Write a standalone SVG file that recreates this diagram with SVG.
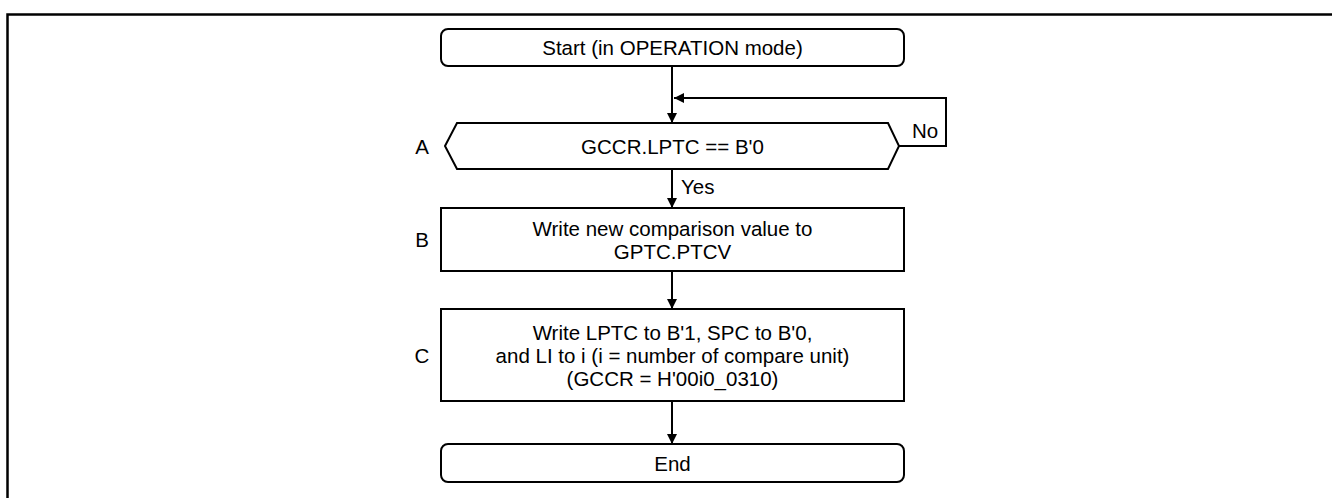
<svg xmlns="http://www.w3.org/2000/svg" width="1332" height="498" viewBox="0 0 1332 498">
<defs>
<style>
.box{fill:#fff;stroke:#000;stroke-width:2}
.ln{fill:none;stroke:#000;stroke-width:2}
.t{font-family:"Liberation Sans",Arial,sans-serif;font-size:20.5px;fill:#000;text-anchor:middle;dominant-baseline:central}
.lbl{font-family:"Liberation Sans",Arial,sans-serif;font-size:20.5px;fill:#000;dominant-baseline:central}
</style>
<marker id="ah" viewBox="0 0 10 10" refX="10" refY="5" markerWidth="10" markerHeight="10" markerUnits="userSpaceOnUse" orient="auto">
<path d="M0,0 L10,5 L0,10 z" fill="#000"/>
</marker>
</defs>
<rect width="1332" height="498" fill="#fff"/>
<path d="M7.5,498 V14.5 H1332" fill="none" stroke="#000" stroke-width="2.5"/>
<g id="connectors">
<line class="ln" x1="672" y1="66" x2="672" y2="123" marker-end="url(#ah)"/>
<polyline class="ln" points="899,146 946,146 946,98 674,98" marker-end="url(#ah)"/>
<line class="ln" x1="672" y1="169" x2="672" y2="208" marker-end="url(#ah)"/>
<line class="ln" x1="672" y1="271" x2="672" y2="309" marker-end="url(#ah)"/>
<line class="ln" x1="672" y1="401" x2="672" y2="444" marker-end="url(#ah)"/>
<text class="lbl" x="912" y="130">No</text>
<text class="lbl" x="681" y="186">Yes</text>
</g>
<g id="start">
<rect class="box" x="441" y="29" width="463" height="37" rx="7"/>
<text class="t" x="672.5" y="47.5">Start (in OPERATION mode)</text>
</g>
<g id="A">
<polygon class="box" points="445,146 457,123 888,123 899,146 888,169 457,169"/>
<text class="t" x="672.5" y="146">GCCR.LPTC == B'0</text>
<text class="t" x="422" y="146">A</text>
</g>
<g id="B">
<rect class="box" x="441" y="208" width="463" height="63"/>
<text class="t" x="672.5" y="228">Write new comparison value to</text>
<text class="t" x="672.5" y="251">GPTC.PTCV</text>
<text class="t" x="422" y="239.5">B</text>
</g>
<g id="C">
<rect class="box" x="441" y="309" width="463" height="92"/>
<text class="t" x="672.5" y="332">Write LPTC to B'1, SPC to B'0,</text>
<text class="t" x="672.5" y="355">and LI to i (i = number of compare unit)</text>
<text class="t" x="672.5" y="378">(GCCR = H'00i0_0310)</text>
<text class="t" x="422" y="355">C</text>
</g>
<g id="end">
<rect class="box" x="441" y="444" width="463" height="38" rx="7"/>
<text class="t" x="672.5" y="463">End</text>
</g>
</svg>
